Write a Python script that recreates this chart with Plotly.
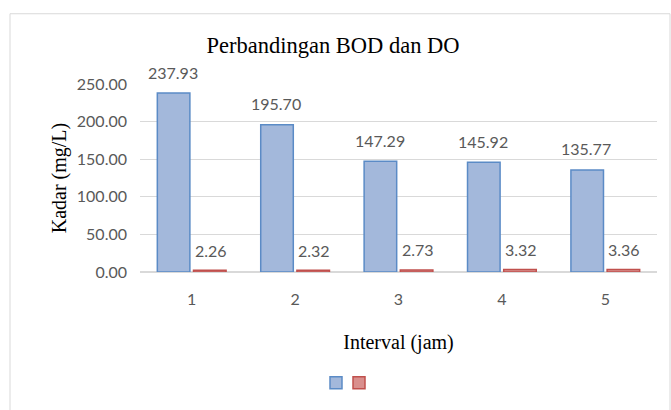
import plotly.graph_objects as go

categories = ["1", "2", "3", "4", "5"]
bod = [237.93, 195.70, 147.29, 145.92, 135.77]
do = [2.26, 2.32, 2.73, 3.32, 3.36]
y_ticks = [0, 50, 100, 150, 200, 250]

label_font = dict(family="Lato, Open Sans, sans-serif", size=16, color="#595959")
serif = "Liberation Serif, Times New Roman, serif"

L, R, T, B = 140, 14, 84, 136
pw = 671 - L - R
ph = 410 - T - B
zero_y = 410 - B

fig = go.Figure()
fig.add_trace(go.Bar(x=categories, y=bod, name="", legend="legend",
                     marker=dict(color="#a3b8db", line=dict(color="#5b8bc6", width=1.5))))
fig.add_trace(go.Bar(x=categories, y=do, name="", legend="legend2",
                     marker=dict(color="#d98f8d", line=dict(color="#c0504d", width=1.5))))

for i, v in enumerate(bod):
    fig.add_annotation(x=i, y=v, text=f"{v:.2f}", showarrow=False, xshift=-19, yshift=21,
                       font=label_font)
for i, v in enumerate(do):
    fig.add_annotation(x=i, y=v, text=f"{v:.2f}", showarrow=False, xshift=19, yshift=20,
                       font=label_font)

fig.add_shape(type="rect", xref="paper", yref="paper",
              x0=(10 - L) / pw, x1=(670 - L) / pw, y0=(zero_y - 420) / ph, y1=(zero_y - 13) / ph,
              line=dict(color="#d9d9d9", width=1), layer="below")

leg_common = dict(orientation="h", yanchor="middle", y=-(386 - zero_y) / ph, xanchor="left",
                  itemwidth=30, font=dict(size=12), bgcolor="rgba(0,0,0,0)")

fig.update_layout(
    width=671, height=410,
    margin=dict(l=L, r=R, t=T, b=B),
    paper_bgcolor="white", plot_bgcolor="white",
    barmode="group", bargap=0.3, bargroupgap=0.1,
    title=dict(text="Perbandingan BOD dan DO", x=333 / 671, xanchor="center",
               y=1 - 45 / 410, yanchor="middle",
               font=dict(family=serif, size=22.5, color="black")),
    xaxis=dict(type="category", showgrid=False, showline=False, ticks="", ticklabelstandoff=16,
               automargin=False, tickfont=label_font,
               title=dict(text="Interval (jam)", standoff=27, font=dict(family=serif, size=20, color="black"))),
    yaxis=dict(range=[0, 250], tickvals=y_ticks, tickformat=".2f", showgrid=True,
               gridcolor="#d9d9d9", gridwidth=1, zeroline=True, zerolinecolor="#d9d9d9",
               ticklabelstandoff=12, tickfont=label_font, automargin=False,
               title=dict(text="Kadar (mg/L)", standoff=4, font=dict(family=serif, size=20, color="black"))),
    showlegend=True,
    legend=dict(x=(336 - 20 - L) / pw, **leg_common),
    legend2=dict(x=(359 - 20 - L) / pw, **leg_common),
)

fig.write_html("out.html", config={"displayModeBar": False},
               post_script="document.body.style.margin='0';")
